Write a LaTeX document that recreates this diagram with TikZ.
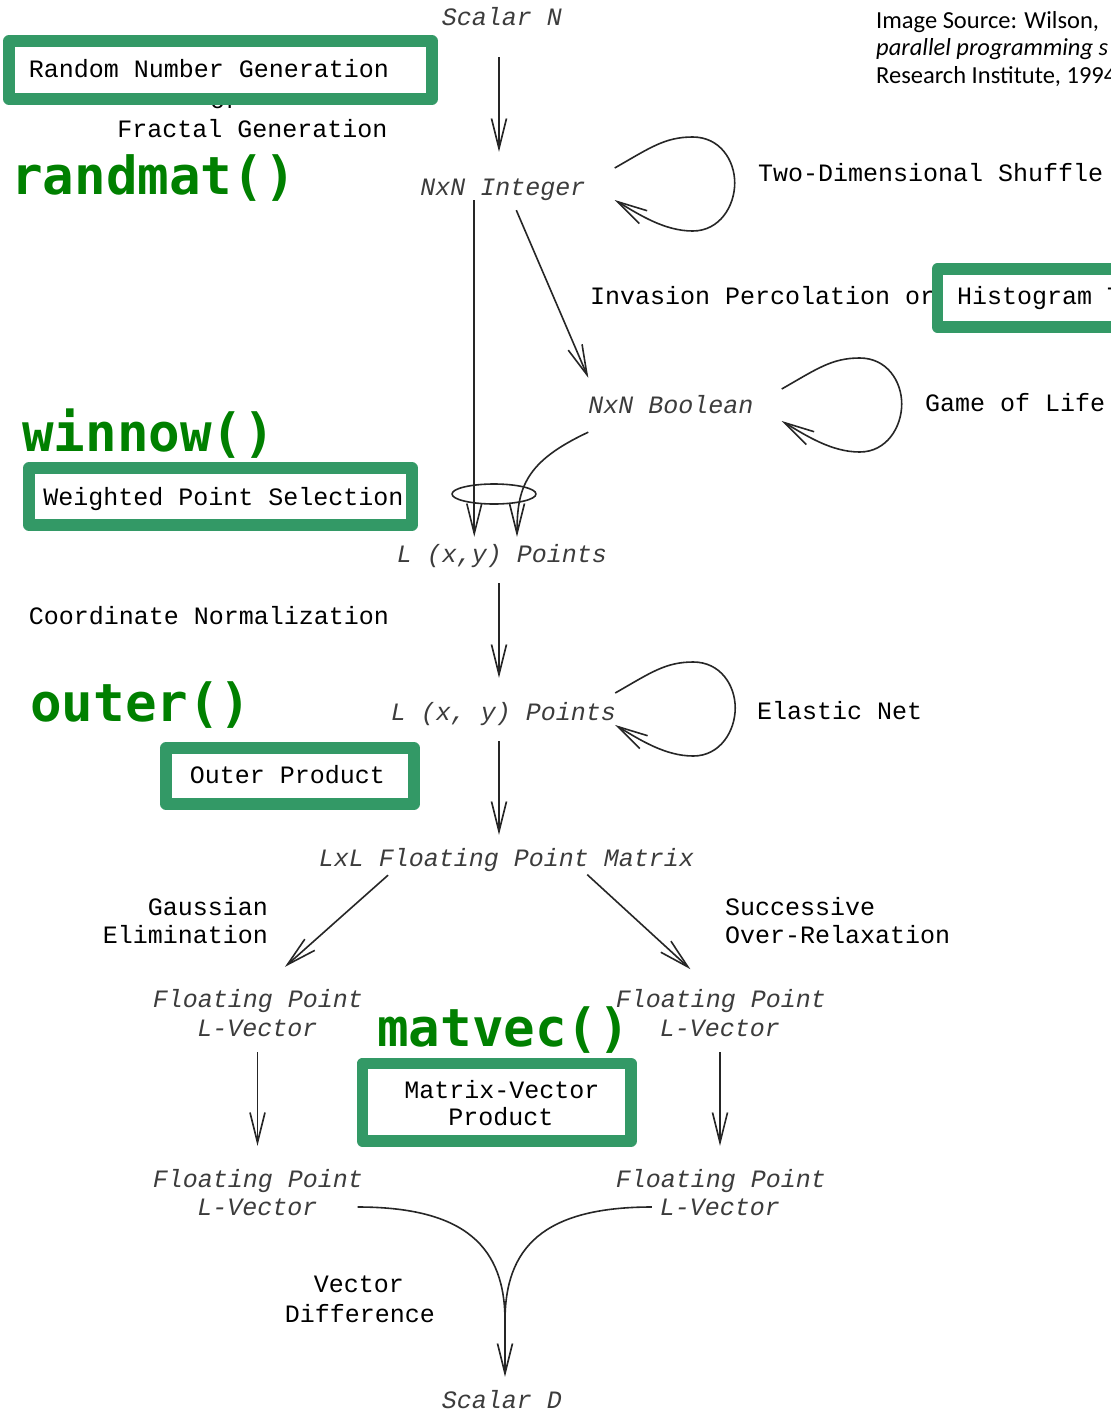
\documentclass[tikz,border=0pt]{standalone}
\usepackage{fontspec}
\setmainfont{Liberation Mono}
\newfontfamily\fnfont{DejaVu Sans Mono}
\newfontfamily\srcfont{Carlito}
\usetikzlibrary{arrows.meta,calc}

\definecolor{boxgreen}{RGB}{51,153,102}
\definecolor{fngreen}{RGB}{0,128,0}
\definecolor{typegray}{RGB}{60,60,60}

% teardrop-shaped self loop drawn to the right of a node
\newcommand\selfloop[3]{%
  \begin{scope}[shift={($(#1.base east)+(#2,#3)$)}]
    \draw[arr] (0,0) .. controls (35,-20) and (50,-31) .. (78,-31)
      .. controls (105,-31) and (120,-8) .. (120,15)
      .. controls (120,38) and (105,63) .. (78,63)
      .. controls (50,63) and (25,47) .. (0,32);
  \end{scope}}

\begin{document}
\begin{tikzpicture}[x=1pt,y=-1pt,line join=round,
  dtype/.style={font=\fontsize{25}{28}\selectfont\itshape, text=typegray,
    inner sep=0pt, text height=16pt, text depth=5pt, anchor=base},
  lbl/.style={font=\fontsize{25}{28}\selectfont, text=black,
    inner sep=0pt, text height=16pt, text depth=5pt, anchor=base},
  fnname/.style={font=\fnfont\bfseries\fontsize{52.5}{58}\selectfont, text=fngreen,
    inner sep=0pt, anchor=base west},
  src/.style={font=\srcfont\fontsize{24.5}{29}\selectfont, inner sep=0pt, anchor=base west},
  gbox/.style={draw=boxgreen, line width=11.5pt, fill=white, inner sep=0pt},
  wire/.style={line width=1.6pt, draw=black!85},
  arr/.style={wire, -{Straight Barb[length=30pt,width=15pt]}}]

\clip (0,0) rectangle (1111,1411);
\fill[white] (0,0) rectangle (1111,1411);

% ---- source note
\node[src] (src1) at (876,28) {Image Source: Wilson,};
\node[src, font=\srcfont\itshape\fontsize{24.5}{29}\selectfont] (src2) at (876,55) {parallel programming s};
\node[src] (src3) at (876,83) {Research Institute, 1994};

% ---- top section
\node[dtype] (scalarN) at (502,25) {Scalar N};
\node[lbl] (orword) at (225,108) {or};
\node[gbox, minimum width=423pt, minimum height=58pt] (rngbox) at (220.5,70) {};
\node[lbl] (rng) at (209,77) {Random Number Generation};
\node[lbl] (fractal) at (252.5,137) {Fractal Generation};
\node[fnname] (randmat) at (11,194) {randmat()};

\node[dtype] (nxnint) at (503,195) {NxN Integer};
\node[lbl, anchor=base west] (shuffle) at (758,181) {Two-Dimensional Shuffle};
\node[lbl, anchor=base west] (invasion) at (590,304) {Invasion Percolation or};
\node[gbox, minimum width=192.5pt, minimum height=58pt] (histbox) at (1033.75,298) {};
\node[lbl, anchor=base west] (histogram) at (957,304) {Histogram Thresholding};

\node[dtype] (nxnbool) at (671,413) {NxN Boolean};
\node[lbl, anchor=base west] (life) at (925,411) {Game of Life};

\node[fnname] (winnow) at (22,451) {winnow()};
\node[gbox, minimum width=383pt, minimum height=57pt] (wpsbox) at (220.5,496.5) {};
\node[lbl] (wps) at (223.5,505) {Weighted Point Selection};

\node[dtype] (lpts1) at (502,562) {L (x,y) Points};
\node[lbl] (coordnorm) at (209,624) {Coordinate Normalization};

\node[fnname] (outerfn) at (30,721) {outer()};
\node[dtype] (lpts2) at (503.5,720) {L (x, y) Points};
\node[lbl, anchor=base west] (elastic) at (757,719) {Elastic Net};
\node[gbox, minimum width=248pt, minimum height=56pt] (opbox) at (290,776) {};
\node[lbl] (outerprod) at (287.5,783) {Outer Product};

% ---- matrix section
\node[dtype] (matrix) at (506.5,866) {LxL Floating Point Matrix};
\node[lbl, anchor=base east] (gauss1) at (268,915) {Gaussian};
\node[lbl, anchor=base east] (gauss2) at (268,943) {Elimination};
\node[lbl, anchor=base west] (sor1) at (725,915) {Successive};
\node[lbl, anchor=base west] (sor2) at (725,943) {Over-Relaxation};

\node[dtype] (fpl1a) at (258,1007) {Floating Point};
\node[dtype] (fpl1b) at (257.5,1036) {L-Vector};
\node[dtype] (fpr1a) at (721,1007) {Floating Point};
\node[dtype] (fpr1b) at (720,1036) {L-Vector};

\node[fnname] (matvec) at (377,1046) {matvec()};
\node[gbox, minimum width=268.5pt, minimum height=77.5pt] (mvbox) at (496.75,1102.25) {};
\node[lbl] (mv1) at (502,1098) {Matrix-Vector};
\node[lbl] (mv2) at (501,1125) {Product};

\node[dtype] (fpl2a) at (258,1187) {Floating Point};
\node[dtype] (fpl2b) at (257.5,1215) {L-Vector};
\node[dtype] (fpr2a) at (721,1187) {Floating Point};
\node[dtype] (fpr2b) at (720,1215) {L-Vector};

\node[lbl] (vd1) at (359,1292) {Vector};
\node[lbl] (vd2) at (360,1322) {Difference};
\node[dtype] (scalarD) at (502,1408) {Scalar D};
\coordinate (vdjoin) at (505,1321);

% ---- connectors
\draw[arr, shorten <=27pt, shorten >=27pt]
  ([xshift=-3pt]scalarN.south) -- ([xshift=-3pt]scalarN.south |- nxnint.north);
\draw[arr, shorten >=9pt]
  ([xshift=54pt]nxnint.south west) -- ([xshift=54pt]nxnint.south west |- lpts1.north);
\draw[arr] ([xshift=96pt,yshift=-10pt]nxnint.south west) -- ([yshift=19pt]nxnbool.north west);
\draw[arr] ([yshift=-14pt]nxnbool.south west)
  to[out=205,in=90,out looseness=1.4] ([xshift=15pt,yshift=9pt]lpts1.north);
\draw[wire] (494,494) ellipse [x radius=42pt, y radius=10pt];

\selfloop{nxnint}{29}{-27}
\selfloop{nxnbool}{28}{-24}
\selfloop{lpts2}{-1}{-27}

\draw[arr, shorten <=16pt, shorten >=26pt]
  ([xshift=-3pt]lpts1.south) -- ([xshift=-3pt]lpts1.south |- lpts2.north);
\draw[arr, shorten <=16pt, shorten >=15pt]
  ([xshift=-4.5pt]lpts2.south) -- ([xshift=-4.5pt]lpts2.south |- matrix.north);

\draw[arr, shorten <=6pt, shorten >=36pt] ([xshift=-114pt]matrix.south) -- (fpl1a.north);
\draw[arr, shorten <=5pt, shorten >=32pt] ([xshift=77pt]matrix.south) -- ([xshift=-7pt]fpr1a.north);

\draw[arr, shorten <=11pt, shorten >=25pt] (fpl1b.south) -- (fpl1b.south |- fpl2a.north);
\draw[arr, shorten <=11pt, shorten >=25pt] (fpr1b.south) -- (fpr1b.south |- fpr2a.north);

\draw[wire] ([xshift=40pt,yshift=8pt]fpl2b.base east) to[out=0,in=90,out looseness=1.5] (vdjoin);
\draw[wire] ([xshift=-8pt,yshift=8pt]fpr2b.base west) to[out=180,in=90,out looseness=1.5] (vdjoin);
\draw[arr, shorten >=15pt] (vdjoin) -- (vdjoin |- scalarD.north);
\end{tikzpicture}
\end{document}
